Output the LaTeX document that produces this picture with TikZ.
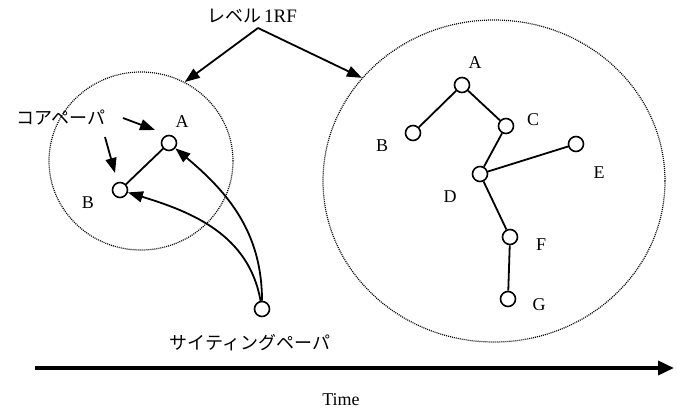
\documentclass[tikz,border=0pt]{standalone}
\usepackage{fontspec}
\setmainfont{Liberation Serif}
\newfontfamily\jfont{Noto Sans CJK JP}
\usetikzlibrary{arrows.meta,shapes.geometric}
\begin{document}
\begin{tikzpicture}[x=1pt,y=-1pt,
  paper/.style={circle,draw,line width=1.6pt,fill=white,minimum size=15pt,inner sep=0pt},
  lbl/.style={font=\fontsize{18}{18}\selectfont,inner sep=0pt},
  jlbl/.style={font=\jfont\fontsize{18}{18}\selectfont,inner sep=0pt},
  edge/.style={line width=1.8pt},
  ptr/.style={line width=1.8pt,-{Triangle[length=15pt,width=11pt]}},
  group/.style={ellipse,draw,line width=1.2pt,dash pattern=on 1pt off 1pt,inner sep=0pt}]
\useasboundingbox (0,0) rectangle (677,409);

% dotted groups
\node[group,minimum width=184pt,minimum height=178pt] (g1) at (141,161) {};
\node[group,minimum width=342pt,minimum height=322pt] (g2) at (494,181) {};

% level label and its two arrows
\node[inner sep=0pt] (lv) at (252,16) {\jfont\fontsize{18}{18}\selectfont レベル\,\rmfamily\fontsize{19}{19}\selectfont 1RF};
\coordinate (apex) at (258,28);
\draw[ptr] (apex) -- (g1.61);
\draw[ptr] (apex) -- (g2.142);

% core papers
\node[paper] (la) at (169,143) {};
\node[paper] (lb) at (120,190) {};
\node[lbl] (lal) at (182,122) {A};
\node[lbl] (lbl) at (88,203) {B};
\draw[edge] (la) -- (lb);

\node[jlbl] (core) at (61,118) {コアペーパ};
\coordinate (c1s) at (123,118);
\coordinate (c1e) at (155,130);
\coordinate (c2s) at (105,137);
\coordinate (c2e) at (115,173);
\draw[ptr] (c1s) -- (c1e);
\draw[ptr] (c2s) -- (c2e);

% citing paper
\node[paper] (cp) at (262,309) {};
\node[jlbl] (cpl) at (250,343) {サイティングペーパ};
\draw[ptr] (cp) to[out=90,in=-40] (la);
\draw[ptr] (cp) to[out=100,in=-17] (lb);

% tree inside the large group
\node[paper] (A) at (462,85) {};
\node[paper] (B) at (413,133) {};
\node[paper] (C) at (506,126) {};
\node[paper] (D) at (480,174) {};
\node[paper] (E) at (576,144) {};
\node[paper] (F) at (510,237) {};
\node[paper] (G) at (508,299) {};
\draw[edge] (A) -- (B);
\draw[edge] (A) -- (C);
\draw[edge] (C) -- (D);
\draw[edge] (D) -- (E);
\draw[edge] (D) -- (F);
\draw[edge] (F) -- (G);
\node[lbl] (Al) at (475,63) {A};
\node[lbl] (Bl) at (382,146) {B};
\node[lbl] (Cl) at (533,120) {C};
\node[lbl] (Dl) at (450,197) {D};
\node[lbl] (El) at (599,173) {E};
\node[lbl] (Fl) at (541,245) {F};
\node[lbl] (Gl) at (539,305) {G};

% time axis
\coordinate (t0) at (35,368);
\coordinate (t1) at (674,368);
\draw[line width=3.5pt,-{Triangle[length=16pt,width=14pt]}] (t0) -- (t1);
\node[lbl] (time) at (341,400) {Time};
\end{tikzpicture}
\end{document}
